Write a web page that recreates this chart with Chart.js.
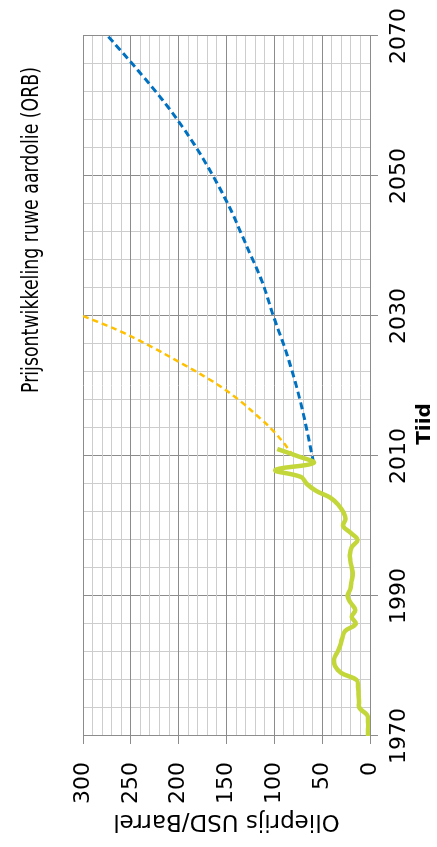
<!DOCTYPE html>
<html>
<head>
<meta charset="utf-8">
<script src="https://cdn.jsdelivr.net/npm/chart.js@4"></script>
<style>
  html, body { margin: 0; padding: 0; background: #fff; overflow: hidden; }
  #wrap {
    position: absolute; left: 0; top: 0;
    width: 847px; height: 437px;
    transform-origin: 0 0;
    transform: translateY(847px) rotate(-90deg);
  }
</style>
</head>
<body>
<div id="wrap"><canvas id="oilChart" width="847" height="437"></canvas></div>
<script>
/* ================= Data ================= */

const chartTitle = "Prijsontwikkeling ruwe aardolie (ORB)";
const xTitle = "Tiid";
const yTitle = "Olieprijs USD/Barrel";

const years = [1970, 1971, 1972, 1973, 1974, 1975, 1976, 1977, 1978, 1979,
  1980, 1981, 1982, 1983, 1984, 1985, 1986, 1987, 1988, 1989,
  1990, 1991, 1992, 1993, 1994, 1995, 1996, 1997, 1998, 1999,
  2000, 2001, 2002, 2003, 2004, 2005, 2006, 2007, 2008, 2009, 2010, 2011];
const actualPrice = [2, 2, 2, 3, 11, 11.5, 12, 12.5, 14, 30,
  36.5, 37.5, 34, 31, 29, 26, 15, 19, 15.5, 20,
  23.5, 20.5, 19.5, 18, 19, 20.5, 21, 19, 13, 20,
  28, 25.5, 28, 33, 41, 56, 66, 72, 99, 59, 76, 97];

const lowYears = [2009, 2015, 2020, 2025, 2030, 2035, 2040, 2045, 2050, 2055, 2060, 2065, 2070];
const lowPrice = [59, 68, 77, 88, 101, 113, 129, 145, 164, 186, 212, 242, 274];

const highYears = [2010, 2012, 2014, 2016, 2018, 2020, 2022, 2024, 2026, 2028, 2030];
const highPrice = [80, 91, 104, 120, 137, 157, 181, 207, 234, 264, 300];

const yearTicks = [1970, 1974, 1978, 1982, 1986, 1990, 1994, 1998, 2002, 2006, 2010,
  2014, 2018, 2022, 2026, 2030, 2034, 2038, 2042, 2046, 2050,
  2054, 2058, 2062, 2066, 2070];
const yearLabels = [1970, 1990, 2010, 2030, 2050, 2070];
const priceLabels = [0, 50, 100, 150, 200, 250, 300];

/* ================= Helpers ================= */

const majorGrid = "#8c8c8c";
const minorGrid = "#cdcdcd";
const font = '"DejaVu Sans", Verdana, sans-serif';

function toPoints(xs, ys) {
  return xs.map((x, i) => ({ x: x, y: ys[i] }));
}

// title and x-axis caption sit off-centre in the original, so draw them here
const textPlugin = {
  id: "freeText",
  afterDraw(chart) {
    const c = chart.ctx;
    c.save();
    c.fillStyle = "#000";
    c.textAlign = "center";
    c.textBaseline = "middle";
    c.font = "23px " + font;
    c.fillText(chartTitle, 617, 32, 326);
    c.font = "bold 20px " + font;
    c.fillText(xTitle, 423, 425);
    c.restore();
  },
};

/* ================= Chart ================= */

const ctx = document.getElementById("oilChart");

new Chart(ctx, {
  type: "line",
  data: {
    datasets: [
      {
        label: "Olieprijs",
        data: toPoints(years, actualPrice),
        borderColor: "#c3d63a",
        borderWidth: 4.5,
        tension: 0.4,
        pointRadius: 0,
        fill: false,
      },
      {
        label: "Prognose laag",
        data: toPoints(lowYears, lowPrice),
        borderColor: "#0070c0",
        borderWidth: 3,
        borderDash: [7, 4],
        cubicInterpolationMode: "monotone",
        pointRadius: 0,
        fill: false,
      },
      {
        label: "Prognose hoog",
        data: toPoints(highYears, highPrice),
        borderColor: "#ffc000",
        borderWidth: 2.5,
        borderDash: [6, 4],
        cubicInterpolationMode: "monotone",
        pointRadius: 0,
        fill: false,
      },
    ],
  },
  options: {
    responsive: false,
    animation: false,
    layout: { padding: { left: 0, right: 32, top: 83, bottom: 0 } },
    plugins: {
      legend: { display: false },
      title: { display: false },
      tooltip: { enabled: false },
    },
    scales: {
      x: {
        type: "linear",
        min: 1970,
        max: 2070,
        afterBuildTicks: (scale) => {
          scale.ticks = yearTicks.map((v) => ({ value: v }));
        },
        afterFit: (scale) => {
          scale.height = 67;
        },
        ticks: {
          autoSkip: false,
          maxRotation: 0,
          padding: 8,
          color: "#000",
          font: { family: font, size: 22 },
          callback: (v) => (yearLabels.includes(v) ? String(v) : ""),
        },
        grid: {
          color: (c) => (c.tick && yearLabels.includes(c.tick.value) ? majorGrid : minorGrid),
          tickColor: (c) => (c.tick && yearLabels.includes(c.tick.value) ? majorGrid : "rgba(0,0,0,0)"),
          tickLength: 8,
        },
        border: { color: majorGrid },
      },
      y: {
        min: 0,
        max: 300,
        afterFit: (scale) => {
          scale.width = 111;
        },
        ticks: {
          stepSize: 10,
          autoSkip: false,
          padding: 18,
          color: "#000",
          font: { family: font, size: 22 },
          callback: (v) => (priceLabels.includes(v) ? String(v) : ""),
        },
        grid: {
          color: (c) => (c.tick && priceLabels.includes(c.tick.value) ? majorGrid : minorGrid),
          tickColor: (c) => (c.tick && priceLabels.includes(c.tick.value) ? majorGrid : "rgba(0,0,0,0)"),
          tickLength: 8,
        },
        border: { color: majorGrid },
        title: {
          display: true,
          text: yTitle,
          color: "#000",
          font: { family: font, size: 23 },
          padding: { top: 12, bottom: 0 },
        },
      },
    },
  },
  plugins: [textPlugin],
});
</script>
</body>
</html>
